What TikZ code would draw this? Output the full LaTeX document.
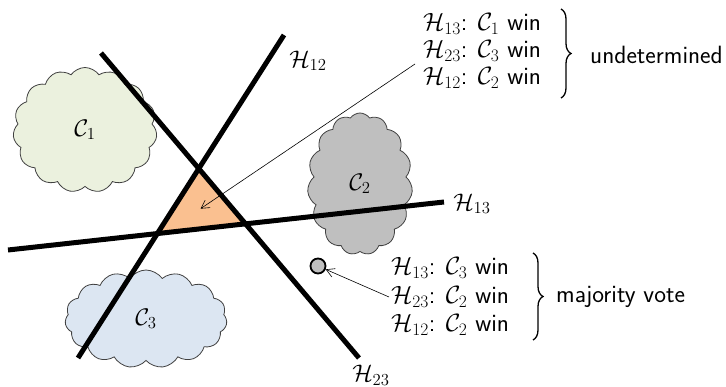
\documentclass[tikz,border=0pt]{standalone}
\usepackage{fix-cm}
\usetikzlibrary{shapes.symbols,arrows.meta,decorations.pathreplacing,calc}
\definecolor{cgreen}{HTML}{EBF1DE}
\definecolor{cgray}{HTML}{BFBFBF}
\definecolor{cblue}{HTML}{DCE6F2}
\definecolor{corange}{HTML}{FAC090}
\definecolor{cborder}{HTML}{404040}
\begin{document}
\begin{tikzpicture}[x=1pt,y=-1pt,
  txt/.style={font=\fontsize{25}{30}\selectfont\sffamily, inner sep=0pt, anchor=west},
  lbl/.style={font=\fontsize{24}{29}\selectfont, inner sep=0pt},
  cl/.style={cloud, cloud puffs=15, cloud puff arc=110, cloud ignores aspect, draw=cborder, line width=0.8pt, font=\fontsize{24}{29}\selectfont, inner sep=0pt},
  hyper/.style={line width=5pt},
  pointer/.style={line width=0.6pt, -{Straight Barb[length=8pt,width=9pt]}},
  bracestyle/.style={decorate, decoration={brace, amplitude=10pt}, line width=1.3pt}
]
\useasboundingbox (0,0) rectangle (726,387);
% clouds
\node[cl, fill=cgreen, minimum width=144pt, minimum height=125pt] (c1) at (85,130) {$\mathcal{C}_1$};
\node[cl, fill=cgray, minimum width=105pt, minimum height=142pt] (c2) at (360,184) {$\mathcal{C}_2$};
\node[cl, fill=cblue, minimum width=162pt, minimum height=98pt] (c3) at (146,319) {$\mathcal{C}_3$};
% hyperplanes
\coordinate (a1) at (284,35); \coordinate (a2) at (78,358);
\coordinate (b1) at (101,53); \coordinate (b2) at (359,358);
\coordinate (d1) at (8,250);  \coordinate (d2) at (444,202);
\coordinate (t1) at (intersection of a1--a2 and b1--b2);
\coordinate (t2) at (intersection of a1--a2 and d1--d2);
\coordinate (t3) at (intersection of b1--b2 and d1--d2);
\coordinate (tc) at ($0.3333*(t1)+0.3333*(t2)+0.3334*(t3)$);
\fill[corange] (t1) -- (t2) -- (t3) -- cycle;
\draw[hyper] (a1) -- (a2);
\draw[hyper] (b1) -- (b2);
\draw[hyper] (d1) -- (d2);
\node[lbl] (h12) at (308,61) {$\mathcal{H}_{12}$};
\node[lbl] (h13) at (472,204) {$\mathcal{H}_{13}$};
\node[lbl] (h23) at (371,375) {$\mathcal{H}_{23}$};
% point
\node[circle, draw, line width=1.8pt, fill=cgray, minimum size=15pt, inner sep=0pt] (pt) at (318,266) {};
% top block
\node[txt] (ra1) at (423,24) {$\mathcal{H}_{13}$: $\mathcal{C}_1$ win};
\node[txt] (ra2) at (423,51) {$\mathcal{H}_{23}$: $\mathcal{C}_3$ win};
\node[txt] (ra3) at (423,78) {$\mathcal{H}_{12}$: $\mathcal{C}_2$ win};
\coordinate (bta) at (561,9); \coordinate (btb) at (561,98);
\draw[bracestyle] (bta) -- (btb);
\node[txt] (und) at (590,55) {undetermined};
% bottom block
\node[txt] (rb1) at (391,268) {$\mathcal{H}_{13}$: $\mathcal{C}_3$ win};
\node[txt] (rb2) at (391,297) {$\mathcal{H}_{23}$: $\mathcal{C}_2$ win};
\node[txt] (rb3) at (391,325) {$\mathcal{H}_{12}$: $\mathcal{C}_2$ win};
\coordinate (bba) at (533,253); \coordinate (bbb) at (533,340);
\draw[bracestyle] (bba) -- (bbb);
\node[txt] (maj) at (556,297) {majority vote};
% pointers
\coordinate (sa) at (415,64);
\draw[pointer] (sa) -- (tc);
\draw[pointer] ($(rb2.west)+(-2,0)$) -- (pt);
\end{tikzpicture}
\end{document}
